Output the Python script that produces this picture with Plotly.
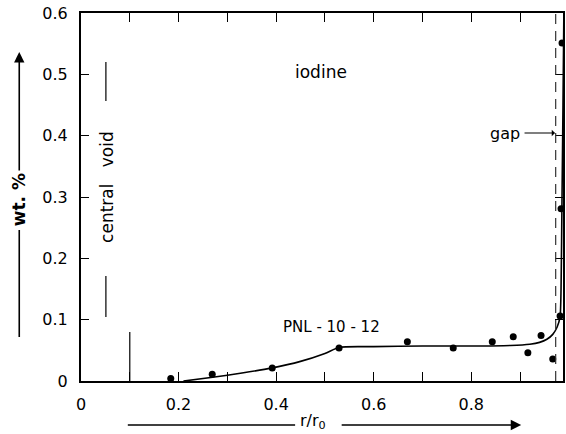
import plotly.graph_objects as go

# Measured iodine concentration across the fuel radius
r_meas = [0.184, 0.269, 0.392, 0.529, 0.669, 0.763, 0.843, 0.886, 0.916, 0.943, 0.967, 0.982, 0.984, 0.986]
wt_meas = [0.004, 0.011, 0.021, 0.054, 0.064, 0.054, 0.064, 0.072, 0.046, 0.074, 0.036, 0.106, 0.281, 0.551]

# Fitted profile curve
r_fit = [0.21, 0.27, 0.33, 0.39, 0.45, 0.50, 0.53, 0.60, 0.70, 0.80, 0.88, 0.92,
         0.94, 0.955, 0.967, 0.976, 0.982, 0.984, 0.986, 0.988, 0.990]
wt_fit = [0.0, 0.006, 0.013, 0.021, 0.032, 0.045, 0.055, 0.056, 0.057, 0.057, 0.058, 0.060,
          0.063, 0.068, 0.076, 0.088, 0.105, 0.15, 0.30, 0.45, 0.62]

x_ticks = [0.0, 0.1, 0.2, 0.3, 0.4, 0.5, 0.6, 0.7, 0.8, 0.9]
x_ticktext = ["0", "", "0.2", "", "0.4", "", "0.6", "", "0.8", ""]
y_ticks = [0.0, 0.1, 0.2, 0.3, 0.4, 0.5, 0.6]
y_ticktext = ["0", "0.1", "0.2", "0.3", "0.4", "0.5", "0.6"]

void_edge = 0.1
gap_pos = 0.973

W, H = 566, 434
L, R, T, B = 81, 1, 13, 53
PW, PH = W - L - R, H - T - B

def px(xp):
    return (xp - L) / PW

def py(yp):
    return (H - B - yp) / PH

FONT = "DejaVu Sans"
ink = "black"

fig = go.Figure()
fig.add_trace(go.Scatter(x=r_fit, y=wt_fit, mode="lines",
                         line=dict(color=ink, width=1.6, shape="spline", smoothing=0.6),
                         hoverinfo="skip", showlegend=False))
fig.add_trace(go.Scatter(x=r_meas, y=wt_meas, mode="markers",
                         marker=dict(color=ink, size=7), showlegend=False))

shapes = [
    # gap position
    dict(type="line", xref="x", yref="y", x0=gap_pos, x1=gap_pos, y0=0, y1=0.6,
         line=dict(color="#333", width=1.2, dash="10px,7px")),
    # central void boundary
    dict(type="line", xref="x", yref="y", x0=void_edge, x1=void_edge, y0=0, y1=0.08,
         line=dict(color=ink, width=1.2)),
    # central void label brackets
    dict(type="line", xref="paper", yref="paper", x0=px(106), x1=px(106), y0=py(62), y1=py(101),
         line=dict(color=ink, width=1.2)),
    dict(type="line", xref="paper", yref="paper", x0=px(106), x1=px(106), y0=py(276), y1=py(317),
         line=dict(color=ink, width=1.2)),
    # y-title arrow shaft (lower part)
    dict(type="line", xref="paper", yref="paper", x0=px(19), x1=px(19), y0=py(337), y1=py(230),
         line=dict(color=ink, width=1.6)),
    # x-title arrow shaft (left part)
    dict(type="line", xref="paper", yref="paper", x0=px(128), x1=px(296), y0=py(425), y1=py(425),
         line=dict(color=ink, width=1.6)),
]

def label(text, x, y, size, angle=0):
    return dict(text=text, x=px(x), y=py(y), xref="paper", yref="paper",
                xanchor="center", yanchor="middle", showarrow=False, textangle=angle,
                font=dict(family=FONT, size=size, color=ink))

def arrow(x_head, y_head, x_tail, y_tail, head=2, size=1.3, width=1.6):
    return dict(text="", x=px(x_head), y=py(y_head), ax=x_tail - x_head, ay=y_tail - y_head,
                xref="paper", yref="paper", axref="pixel", ayref="pixel",
                showarrow=True, arrowhead=head, arrowsize=size, arrowwidth=width,
                arrowcolor=ink)

annotations = [
    label("iodine", 322, 72, 17),
    label("PNL - 10 - 12", 333, 327, 15),
    label("central   void", 107, 187, 17, -90),
    label("gap", 507, 133, 16),
    arrow(557, 133, 525, 133, head=1, size=1.0, width=1.1),
    label("<b>wt. %</b>", 19, 200, 17, -90),
    arrow(19, 52, 19, 172),
    label("r/r<sub>0</sub>", 314, 421, 16),
    arrow(523, 425, 342, 425),
]

fig.update_layout(
    width=W, height=H,
    margin=dict(l=L, r=R, t=T, b=B),
    paper_bgcolor="white", plot_bgcolor="white",
    font=dict(family=FONT, size=16, color=ink),
    shapes=shapes, annotations=annotations,
    xaxis=dict(range=[0, 0.988], tickvals=x_ticks, ticktext=x_ticktext,
               ticks="inside", ticklen=9, tickwidth=1.3, tickcolor=ink,
               showline=True, linewidth=2.2, linecolor=ink, mirror="ticks",
               showgrid=False, zeroline=False, ticklabelstandoff=8),
    yaxis=dict(range=[0, 0.6], tickvals=y_ticks, ticktext=y_ticktext,
               ticks="inside", ticklen=8, tickwidth=1.3, tickcolor=ink,
               showline=True, linewidth=2.2, linecolor=ink, mirror="ticks",
               showgrid=False, zeroline=False, ticklabelstandoff=8),
)

fig.write_html("out.html")
